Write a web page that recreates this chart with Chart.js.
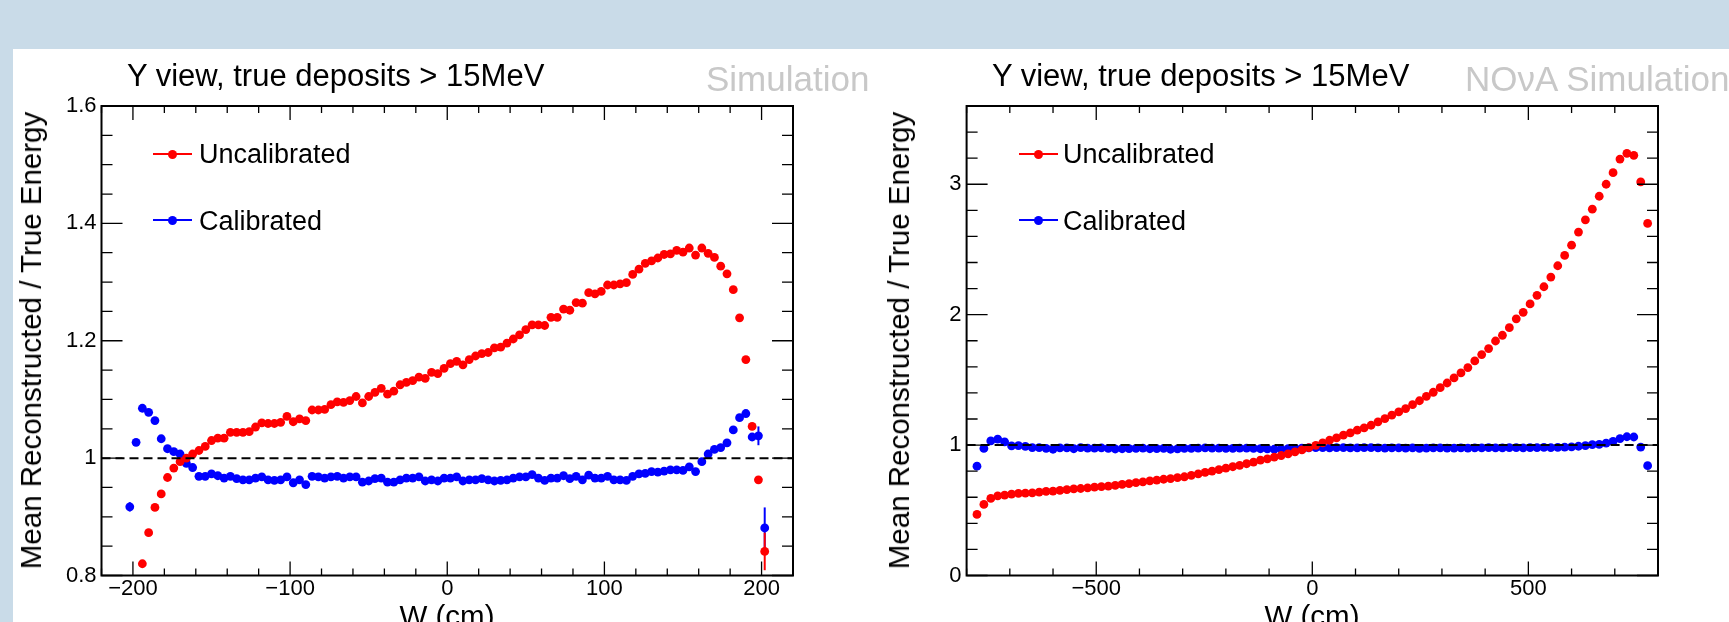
<!DOCTYPE html>
<html>
<head>
<meta charset="utf-8">
<script src="https://cdn.jsdelivr.net/npm/chart.js"></script>
<style>
  html, body { margin: 0; padding: 0; }
  body {
    width: 1729px; height: 622px; overflow: hidden; position: relative;
    background: #c9dbe8; font-family: "Liberation Sans", Arial, sans-serif;
  }
  #panel { position: absolute; left: 13px; top: 49px; right: 0; bottom: 0; background: #fff; }
  canvas { position: absolute; top: 0; }
  .txt { position: absolute; white-space: nowrap; line-height: 1; color: #000; }
  .title { font-size: 31px; top: 60px; }
  .sim { font-size: 35px; top: 61px; color: #c8c8c8; }
  .ytitle { font-size: 29.5px; left: 0; top: 0; transform-origin: 0 0; }
  .xtitle { font-size: 29.5px; top: 601px; transform: translateX(-50%); }
  .leg { font-size: 27px; }
  .legline { position: absolute; height: 2px; width: 39px; }
  .legdot { position: absolute; width: 9px; height: 9px; border-radius: 50%; }
</style>
</head>
<body>
<div id="panel"></div>
<canvas id="leftChart" width="864" height="622" style="left:0"></canvas>
<canvas id="rightChart" width="865" height="622" style="left:864px"></canvas>

<div class="txt title" style="left:127px">Y view, true deposits &gt; 15MeV</div>
<div class="txt sim" style="left:706px">Simulation</div>
<div class="txt title" style="left:992px">Y view, true deposits &gt; 15MeV</div>
<div class="txt sim" style="left:1465px">NOνA Simulation</div>

<div class="txt ytitle" style="transform: translate(16px, 340.5px) rotate(-90deg) translate(-50%, 0)">Mean Reconstructed / True Energy</div>
<div class="txt ytitle" style="transform: translate(884px, 340.5px) rotate(-90deg) translate(-50%, 0)">Mean Reconstructed / True Energy</div>
<div class="txt xtitle" style="left:447px">W (cm)</div>
<div class="txt xtitle" style="left:1312px">W (cm)</div>

<div class="legline" style="left:153px;top:153px;background:#ff0000"></div>
<div class="legdot" style="left:167.5px;top:149.5px;background:#ff0000"></div>
<div class="txt leg" style="left:199px;top:141px">Uncalibrated</div>
<div class="legline" style="left:153px;top:219px;background:#0000ff"></div>
<div class="legdot" style="left:167.5px;top:215.5px;background:#0000ff"></div>
<div class="txt leg" style="left:199px;top:208px">Calibrated</div>

<div class="legline" style="left:1019px;top:153px;background:#ff0000"></div>
<div class="legdot" style="left:1033.5px;top:149.5px;background:#ff0000"></div>
<div class="txt leg" style="left:1063px;top:141px">Uncalibrated</div>
<div class="legline" style="left:1019px;top:219px;background:#0000ff"></div>
<div class="legdot" style="left:1033.5px;top:215.5px;background:#0000ff"></div>
<div class="txt leg" style="left:1063px;top:208px">Calibrated</div>

<script>
// ---------- data: left panel (bin centres in cm) ----------
const leftW = [-202, -198, -194, -190, -186, -182, -178, -174, -170, -166,
  -162, -158, -154, -150, -146, -142, -138, -134, -130, -126,
  -122, -118, -114, -110, -106, -102, -98, -94, -90, -86,
  -82, -78, -74, -70, -66, -62, -58, -54, -50, -46,
  -42, -38, -34, -30, -26, -22, -18, -14, -10, -6,
  -2, 2, 6, 10, 14, 18, 22, 26, 30, 34,
  38, 42, 46, 50, 54, 58, 62, 66, 70, 74,
  78, 82, 86, 90, 94, 98, 102, 106, 110, 114,
  118, 122, 126, 130, 134, 138, 142, 146, 150, 154,
  158, 162, 166, 170, 174, 178, 182, 186, 190, 194,
  198, 202];

const leftUncal = [null, null, 0.820, 0.873, 0.916, 0.939, 0.967, 0.983, 0.994, 1.000,
  1.007, 1.013, 1.020, 1.030, 1.034, 1.034, 1.044, 1.044, 1.044, 1.045,
  1.053, 1.060, 1.059, 1.059, 1.061, 1.071, 1.062, 1.067, 1.064, 1.082,
  1.082, 1.083, 1.091, 1.096, 1.095, 1.098, 1.105, 1.094, 1.105, 1.112,
  1.119, 1.109, 1.114, 1.125, 1.129, 1.132, 1.138, 1.136, 1.146, 1.144,
  1.153, 1.161, 1.165, 1.159, 1.168, 1.174, 1.178, 1.180, 1.188, 1.189,
  1.196, 1.203, 1.210, 1.219, 1.227, 1.227, 1.226, 1.240, 1.240, 1.254,
  1.252, 1.265, 1.264, 1.282, 1.280, 1.284, 1.295, 1.295, 1.297, 1.299,
  1.313, 1.322, 1.332, 1.336, 1.341, 1.347, 1.348, 1.354, 1.351, 1.358,
  1.346, 1.358, 1.349, 1.342, 1.327, 1.314, 1.287, 1.239, 1.168, 1.054,
  0.963, 0.841];

const leftCal = [0.917, 1.027, 1.085, 1.078, 1.064, 1.033, 1.016, 1.011, 1.007, 0.991,
  0.984, 0.969, 0.969, 0.973, 0.970, 0.966, 0.969, 0.965, 0.963, 0.963,
  0.966, 0.968, 0.963, 0.962, 0.963, 0.968, 0.958, 0.963, 0.955, 0.969,
  0.968, 0.966, 0.968, 0.969, 0.966, 0.968, 0.968, 0.959, 0.961, 0.965,
  0.966, 0.959, 0.959, 0.963, 0.966, 0.966, 0.968, 0.961, 0.963, 0.961,
  0.966, 0.966, 0.968, 0.961, 0.963, 0.963, 0.965, 0.963, 0.961, 0.962,
  0.963, 0.966, 0.968, 0.968, 0.972, 0.966, 0.962, 0.966, 0.966, 0.970,
  0.965, 0.969, 0.963, 0.971, 0.966, 0.966, 0.969, 0.963, 0.963, 0.962,
  0.969, 0.973, 0.974, 0.977, 0.976, 0.978, 0.980, 0.980, 0.979, 0.985,
  0.977, 0.994, 1.007, 1.015, 1.018, 1.026, 1.048, 1.069, 1.076, 1.036,
  1.038, 0.881];

// visible error bars only
const leftUncalErrW = [202];
const leftUncalErr = [0.032];
const leftCalErrW = [-202, 198, 202];
const leftCalErr = [0.008, 0.016, 0.035];

// ---------- data: right panel ----------
const rightW = [-776, -760, -744, -728, -712, -696, -680, -664, -648, -632,
  -616, -600, -584, -568, -552, -536, -520, -504, -488, -472,
  -456, -440, -424, -408, -392, -376, -360, -344, -328, -312,
  -296, -280, -264, -248, -232, -216, -200, -184, -168, -152,
  -136, -120, -104, -88, -72, -56, -40, -24, -8, 8,
  24, 40, 56, 72, 88, 104, 120, 136, 152, 168,
  184, 200, 216, 232, 248, 264, 280, 296, 312, 328,
  344, 360, 376, 392, 408, 424, 440, 456, 472, 488,
  504, 520, 536, 552, 568, 584, 600, 616, 632, 648,
  664, 680, 696, 712, 728, 744, 760, 776];

const rightUncal = [0.468, 0.545, 0.591, 0.611, 0.616, 0.624, 0.629, 0.631, 0.634, 0.639,
  0.645, 0.647, 0.652, 0.658, 0.664, 0.667, 0.672, 0.677, 0.681, 0.686,
  0.691, 0.698, 0.705, 0.712, 0.718, 0.726, 0.732, 0.738, 0.743, 0.750,
  0.757, 0.768, 0.779, 0.790, 0.801, 0.812, 0.823, 0.834, 0.845, 0.857,
  0.870, 0.884, 0.895, 0.907, 0.920, 0.933, 0.948, 0.963, 0.980, 0.998,
  1.017, 1.037, 1.055, 1.076, 1.094, 1.114, 1.132, 1.152, 1.178, 1.203,
  1.229, 1.254, 1.280, 1.310, 1.340, 1.374, 1.405, 1.440, 1.476, 1.515,
  1.553, 1.594, 1.645, 1.694, 1.740, 1.798, 1.842, 1.900, 1.968, 2.018,
  2.082, 2.148, 2.214, 2.288, 2.375, 2.454, 2.533, 2.633, 2.727, 2.809,
  2.908, 3.000, 3.089, 3.193, 3.237, 3.222, 3.018, 2.700];

const rightCal = [0.838, 0.974, 1.032, 1.045, 1.025, 0.994, 0.996, 0.990, 0.981, 0.981,
  0.975, 0.968, 0.979, 0.978, 0.972, 0.980, 0.977, 0.976, 0.979, 0.974,
  0.970, 0.972, 0.973, 0.975, 0.976, 0.972, 0.973, 0.975, 0.968, 0.971,
  0.975, 0.974, 0.977, 0.978, 0.976, 0.977, 0.975, 0.974, 0.977, 0.976,
  0.975, 0.972, 0.971, 0.968, 0.969, 0.973, 0.975, 0.976, 0.978, 0.980,
  0.981, 0.979, 0.981, 0.980, 0.978, 0.979, 0.981, 0.980, 0.979, 0.976,
  0.978, 0.979, 0.977, 0.978, 0.975, 0.977, 0.978, 0.979, 0.977, 0.976,
  0.978, 0.977, 0.979, 0.978, 0.980, 0.978, 0.979, 0.981, 0.980, 0.979,
  0.981, 0.980, 0.982, 0.981, 0.983, 0.985, 0.987, 0.991, 0.996, 1.003,
  1.006, 1.015, 1.028, 1.050, 1.064, 1.062, 0.985, 0.842];

const RED = '#ff0000';
const BLUE = '#0000ff';
const DOT = 4.4;
const tickFont = { family: '"Liberation Sans", Arial, sans-serif', size: 22 };

function isMajor(v, step) {
  const r = v / step;
  return Math.abs(r - Math.round(r)) < 1e-6;
}

function fmt(v) {
  const s = String(Math.round(v * 10) / 10);
  return v < 0 ? '\u2212' + s.slice(1) : s;
}

function toPoints(xs, ys) {
  const pts = [];
  xs.forEach((x, i) => { if (ys[i] !== null) pts.push({ x: x, y: ys[i] }); });
  return pts;
}

// ROOT-like frame: inner ticks on all four sides, dashed line at 1, error bars
const rootFrame = {
  id: 'rootFrame',
  beforeDatasetsDraw(chart, args, opts) {
    const { ctx, scales: { x, y } } = chart;
    ctx.save();
    ctx.lineWidth = 2;
    (opts.errors || []).forEach(e => {
      ctx.strokeStyle = e.color;
      e.w.forEach((w, i) => {
        const ds = chart.data.datasets[e.dataset].data.find(p => p.x === w);
        if (!ds) return;
        const px = x.getPixelForValue(w);
        ctx.beginPath();
        ctx.moveTo(px, y.getPixelForValue(ds.y - e.err[i]));
        ctx.lineTo(px, y.getPixelForValue(ds.y + e.err[i]));
        ctx.stroke();
      });
    });
    ctx.restore();
  },
  afterDatasetsDraw(chart, args, opts) {
    const { ctx, chartArea: a, scales: { x, y } } = chart;
    ctx.save();
    // dashed reference line
    const yr = y.getPixelForValue(opts.refLine);
    ctx.strokeStyle = '#000';
    ctx.lineWidth = 2;
    ctx.setLineDash([9, 5]);
    ctx.beginPath();
    ctx.moveTo(a.left, yr);
    ctx.lineTo(a.right, yr);
    ctx.stroke();
    ctx.setLineDash([]);

    // ticks
    ctx.lineWidth = 1.3;
    ctx.beginPath();
    x.ticks.forEach(t => {
      const px = x.getPixelForValue(t.value);
      const len = isMajor(t.value, opts.xMajor) ? 14 : 7;
      ctx.moveTo(px, a.bottom); ctx.lineTo(px, a.bottom - len);
      ctx.moveTo(px, a.top); ctx.lineTo(px, a.top + len);
    });
    y.ticks.forEach(t => {
      const py = y.getPixelForValue(t.value);
      const len = isMajor(t.value, opts.yMajor) ? 21 : 11;
      ctx.moveTo(a.left, py); ctx.lineTo(a.left + len, py);
      ctx.moveTo(a.right, py); ctx.lineTo(a.right - len, py);
    });
    ctx.stroke();

    // frame
    ctx.lineWidth = 2;
    ctx.strokeRect(a.left, a.top, a.right - a.left, a.bottom - a.top);
    ctx.restore();
  }
};

function makeChart(id, cfg) {
  const canvas = document.getElementById(id);
  const W = canvas.width, H = canvas.height;
  const yAxisW = 40, xAxisH = 40;
  return new Chart(canvas.getContext('2d'), {
    type: 'scatter',
    data: {
      datasets: [
        { data: toPoints(cfg.w, cfg.uncal), backgroundColor: RED, pointRadius: DOT,
          pointHoverRadius: DOT, pointBorderWidth: 0, borderWidth: 0 },
        { data: toPoints(cfg.w, cfg.cal), backgroundColor: BLUE, pointRadius: DOT,
          pointHoverRadius: DOT, pointBorderWidth: 0, borderWidth: 0 }
      ]
    },
    options: {
      responsive: false,
      animation: false,
      devicePixelRatio: 1,
      events: [],
      layout: {
        padding: {
          left: cfg.area.left - yAxisW,
          right: W - cfg.area.right,
          top: cfg.area.top,
          bottom: H - cfg.area.bottom - xAxisH
        }
      },
      plugins: {
        legend: { display: false },
        tooltip: { enabled: false },
        rootFrame: { refLine: 1, xMajor: cfg.xMajor, yMajor: cfg.yMajor, errors: cfg.errors }
      },
      scales: {
        x: {
          type: 'linear', min: cfg.xMin, max: cfg.xMax,
          grid: { display: false, drawTicks: false },
          border: { display: false },
          ticks: {
            stepSize: cfg.xMinor, autoSkip: false, maxRotation: 0, padding: 0,
            color: '#000', font: tickFont,
            callback: v => isMajor(v, cfg.xMajor) ? fmt(v) : ''
          },
          afterFit: s => { s.height = xAxisH; }
        },
        y: {
          type: 'linear', min: cfg.yMin, max: cfg.yMax,
          grid: { display: false, drawTicks: false },
          border: { display: false },
          ticks: {
            stepSize: cfg.yMinor, autoSkip: false, padding: 5,
            color: '#000', font: tickFont,
            callback: v => isMajor(v, cfg.yMajor) ? fmt(v) : ''
          },
          afterFit: s => { s.width = yAxisW; }
        }
      }
    },
    plugins: [rootFrame]
  });
}

makeChart('leftChart', {
  w: leftW, uncal: leftUncal, cal: leftCal,
  xMin: -220, xMax: 220, xMinor: 20, xMajor: 100,
  yMin: 0.8, yMax: 1.6, yMinor: 0.05, yMajor: 0.2,
  area: { left: 101.5, right: 793, top: 106, bottom: 575.5 },
  errors: [
    { dataset: 1, color: BLUE, w: leftCalErrW, err: leftCalErr },
    { dataset: 0, color: RED, w: leftUncalErrW, err: leftUncalErr }
  ]
});

makeChart('rightChart', {
  w: rightW, uncal: rightUncal, cal: rightCal,
  xMin: -800, xMax: 800, xMinor: 100, xMajor: 500,
  yMin: 0, yMax: 3.6, yMinor: 0.2, yMajor: 1,
  area: { left: 102.6, right: 794, top: 106, bottom: 575.5 },
  errors: []
});
</script>
</body>
</html>
